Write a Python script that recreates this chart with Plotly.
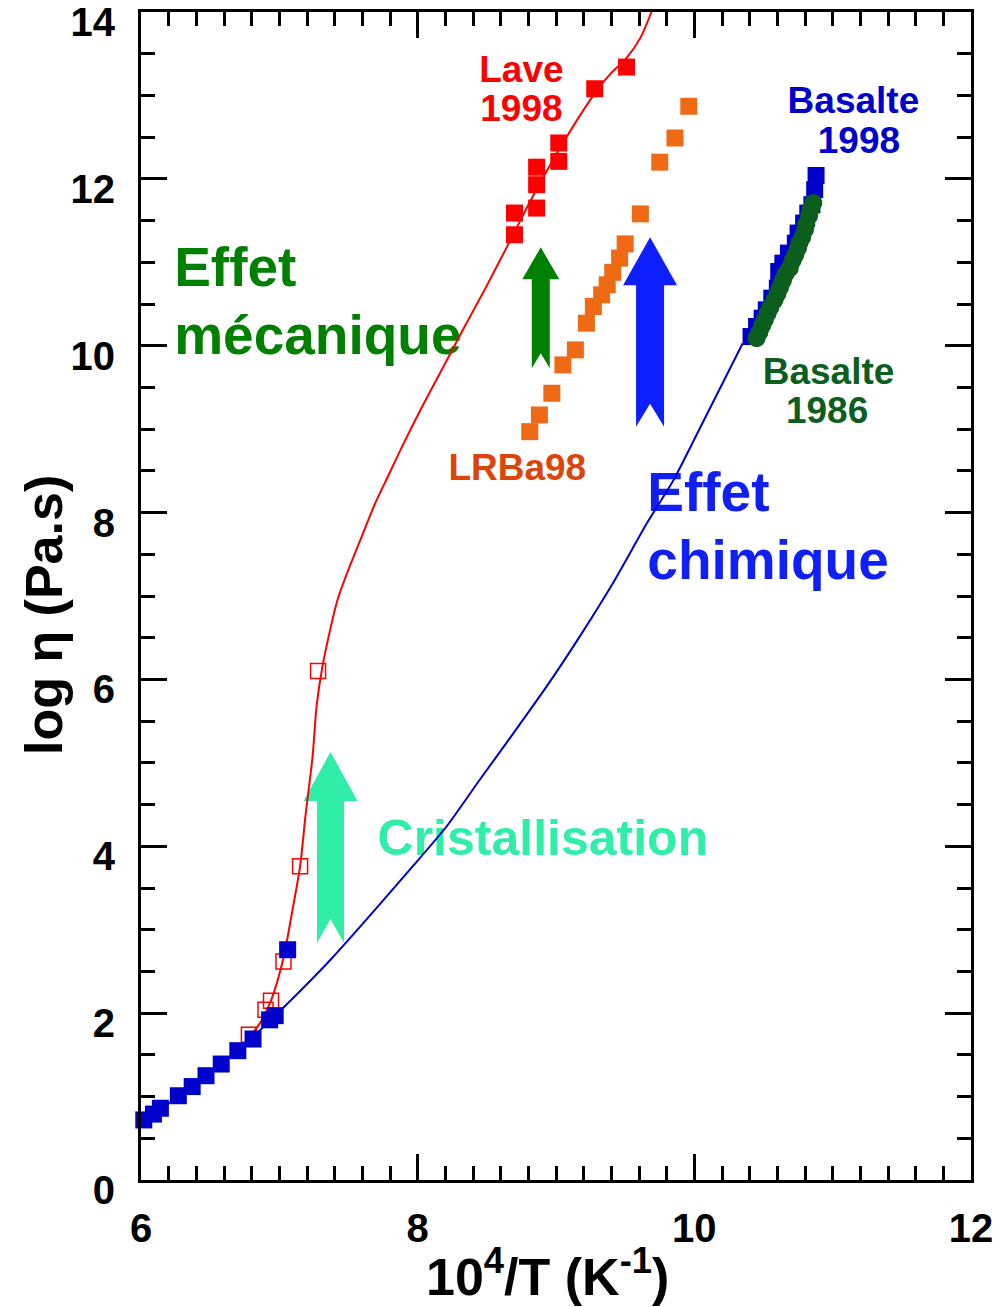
import plotly.graph_objects as go

# ---------------- data ----------------
# fitted curves
lave_curve_x = [6.79, 6.86, 6.94, 7.03, 7.09, 7.15, 7.19, 7.24, 7.27, 7.31, 7.36, 7.42, 7.51,
                7.60, 7.69, 7.79, 7.89, 8.02, 8.18, 8.33, 8.49, 8.65, 8.81, 9.05, 9.30, 9.40,
                9.51, 9.61, 9.69]
lave_curve_y = [1.73, 1.88, 2.15, 2.66, 3.19, 3.76, 4.38, 5.07, 5.69, 6.14, 6.54, 6.95, 7.36,
                7.73, 8.10, 8.45, 8.80, 9.23, 9.73, 10.20, 10.69, 11.20, 11.72, 12.43, 13.07,
                13.27, 13.45, 13.69, 14.0]

basalte_curve_x = [6.02, 6.28, 6.70, 6.97, 7.37, 7.97, 8.21, 8.45, 8.69, 8.93, 9.17, 9.41,
                   9.66, 9.85, 10.04, 10.35]
basalte_curve_y = [0.72, 1.01, 1.55, 1.97, 2.64, 3.77, 4.24, 4.80, 5.35, 5.91, 6.51, 7.15,
                   7.88, 8.39, 9.01, 10.03]

# Lave 1998 (filled) and open symbols
lave_x = [8.70, 8.70, 8.86, 8.86, 8.86, 9.02, 9.02, 9.28, 9.51]
lave_y = [11.59, 11.33, 12.14, 11.93, 11.65, 12.43, 12.21, 13.08, 13.34]
lave_open_x = [6.78, 6.90, 6.94, 7.03, 7.15, 7.28]
lave_open_y = [1.74, 2.04, 2.15, 2.62, 3.76, 6.10]

# Basalte 1998
basalte98_x = [6.02, 6.09, 6.14, 6.27, 6.37, 6.47, 6.58, 6.70, 6.81, 6.93, 6.97, 7.06,
               10.41, 10.45, 10.49, 10.52, 10.56, 10.60, 10.61, 10.64, 10.68, 10.73, 10.75,
               10.79, 10.82, 10.85, 10.87, 10.88]
basalte98_y = [0.72, 0.79, 0.86, 1.01, 1.12, 1.25, 1.39, 1.55, 1.69, 1.92, 1.97, 2.76,
               10.11, 10.23, 10.33, 10.43, 10.57, 10.69, 10.89, 10.99, 11.11, 11.23, 11.35,
               11.47, 11.59, 11.69, 11.87, 12.04]

# Basalte 1986
basalte86_x = [10.45, 10.47, 10.49, 10.51, 10.53, 10.55, 10.58, 10.60, 10.62, 10.64, 10.66,
               10.69, 10.71, 10.73, 10.75, 10.76, 10.78, 10.80, 10.81, 10.83, 10.84, 10.86]
basalte86_y = [10.09, 10.16, 10.24, 10.31, 10.39, 10.46, 10.55, 10.62, 10.70, 10.78, 10.86,
               10.93, 11.02, 11.09, 11.17, 11.23, 11.30, 11.39, 11.46, 11.56, 11.63, 11.71]

# LRBa98
lrba_x = [8.81, 8.88, 8.97, 9.05, 9.14, 9.22, 9.27, 9.33, 9.37, 9.41, 9.46, 9.50, 9.61,
          9.75, 9.86, 9.96]
lrba_y = [8.97, 9.17, 9.43, 9.77, 9.95, 10.27, 10.47, 10.61, 10.73, 10.88, 11.05, 11.22,
          11.58, 12.20, 12.49, 12.87]

# arrows: centre x, tail y, tip y
arrow_x = [7.37, 8.89, 9.68]
arrow_y0 = [2.84, 9.73, 9.03]
arrow_y1 = [5.13, 11.18, 11.30]

# labels
label_text = ["Lave", "1998", "Basalte", "1998", "Basalte", "1986", "LRBa98"]
label_x = [8.75, 8.75, 11.15, 11.19, 10.97, 10.96, 8.72]
label_y = [13.27, 12.81, 12.90, 12.42, 9.65, 9.19, 8.50]

big_text = ["Effet", "mécanique", "Effet", "chimique", "Cristallisation"]
big_x = [6.24, 6.24, 9.66, 9.66, 7.71]
big_y = [10.88, 10.07, 8.18, 7.37, 4.04]

# ---------------- styles ----------------
RED = "#FF0000"
BLUE = "#0000CC"
DGREEN = "#0C5E1E"
ORANGE = "#EF6A14"
label_colors = [RED, RED, BLUE, BLUE, DGREEN, DGREEN, "#DC450A"]
big_colors = ["#008000", "#008000", "#1020F5", "#1020F5", "#30EEA8"]
big_sizes = [55, 55, 55, 55, 50]
arrow_colors = ["#30EEA8", "#008000", "#0D1FFF"]
# widths in px: head width, shaft width, head height, notch depth
arrow_dims = [(54, 27, 49, 24), (37, 18, 32, 15), (54, 28, 48, 23)]

FONT = "Liberation Sans, Arial, Helvetica, sans-serif"
PX_X = 830 / 6.0
PX_Y = 1168 / 14.0

fig = go.Figure()

# text (below curves)
for t, x, y, c in zip(label_text, label_x, label_y, label_colors):
    fig.add_trace(go.Scatter(x=[x], y=[y], mode="text", text=[t], textposition="middle center",
                             textfont=dict(family=FONT, size=37, color=c, weight="bold"),
                             hoverinfo="skip", cliponaxis=False))
for t, x, y, c, s in zip(big_text, big_x, big_y, big_colors, big_sizes):
    fig.add_trace(go.Scatter(x=[x], y=[y], mode="text", text=[t], textposition="middle right",
                             textfont=dict(family=FONT, size=s, color=c, weight="bold"),
                             hoverinfo="skip", cliponaxis=False))

# curves
fig.add_trace(go.Scatter(x=lave_curve_x, y=lave_curve_y, mode="lines",
                         line=dict(color=RED, width=2, shape="spline", smoothing=0.8)))
fig.add_trace(go.Scatter(x=lave_open_x, y=lave_open_y, mode="markers",
                         marker=dict(symbol="square-open", size=15, color=RED,
                                     line=dict(width=1.5, color=RED)), cliponaxis=False))
fig.add_trace(go.Scatter(x=basalte_curve_x, y=basalte_curve_y, mode="lines",
                         line=dict(color=BLUE, width=2, shape="spline", smoothing=0.6)))
fig.add_trace(go.Scatter(x=basalte98_x, y=basalte98_y, mode="markers",
                         marker=dict(symbol="square", size=17, color=BLUE), cliponaxis=False))
fig.add_trace(go.Scatter(x=basalte86_x, y=basalte86_y, mode="markers",
                         marker=dict(symbol="circle", size=18, color=DGREEN), cliponaxis=False))
fig.add_trace(go.Scatter(x=lrba_x, y=lrba_y, mode="markers",
                         marker=dict(symbol="square", size=17, color=ORANGE), cliponaxis=False))
fig.add_trace(go.Scatter(x=lave_x, y=lave_y, mode="markers",
                         marker=dict(symbol="square", size=17, color=RED), cliponaxis=False))

# arrows as shapes
shapes = []
for x, y0, y1, c, (hw, sw, hh, nd) in zip(arrow_x, arrow_y0, arrow_y1, arrow_colors, arrow_dims):
    hw, sw = hw / PX_X / 2, sw / PX_X / 2
    hh, nd = hh / PX_Y, nd / PX_Y
    yb = y1 - hh
    path = (f"M {x-sw},{y0} L {x-sw},{yb} L {x-hw},{yb} L {x},{y1} L {x+hw},{yb} "
            f"L {x+sw},{yb} L {x+sw},{y0} L {x},{y0+nd} Z")
    shapes.append(dict(type="path", path=path, xref="x", yref="y", fillcolor=c,
                       line=dict(width=0), layer="below"))

axis_common = dict(showgrid=False, zeroline=False, showline=True, linewidth=3, linecolor="black",
                   mirror="allticks", ticks="inside", ticklen=26, tickwidth=3, tickcolor="black",
                   ticklabeloverflow="allow", automargin=False,
                   tickfont=dict(family=FONT, size=40, color="black", weight="bold"))

fig.update_layout(
    width=1002, height=1307,
    margin=dict(l=141, r=31, t=12, b=127, autoexpand=False),
    paper_bgcolor="white", plot_bgcolor="white",
    showlegend=False,
    shapes=shapes,
    xaxis=dict(range=[6, 12], tick0=6, dtick=2, ticklabelstandoff=11,
               minor=dict(dtick=0.2, ticks="inside", ticklen=14, tickwidth=2.5, tickcolor="black",
                          showgrid=False),
               **axis_common),
    yaxis=dict(range=[0, 14], tick0=0, dtick=2, ticklabelstandoff=15, ticklabelshift=10,
               minor=dict(dtick=0.5, ticks="inside", ticklen=14, tickwidth=2.5, tickcolor="black",
                          showgrid=False),
               **axis_common),
    annotations=[
        dict(text="10<sup>4</sup>/T (K<sup>-1</sup>)", xref="paper", yref="paper",
             x=0.49, y=-0.0800, xanchor="center", yanchor="middle", showarrow=False,
             font=dict(family=FONT, size=52, color="black", weight="bold")),
        dict(text="log η (Pa.s)", xref="paper", yref="paper", x=-0.1169, y=0.4837,
             xanchor="center", yanchor="middle", textangle=-90, showarrow=False,
             font=dict(family=FONT, size=52, color="black", weight="bold")),
    ],
)

fig.write_html("out.html")
